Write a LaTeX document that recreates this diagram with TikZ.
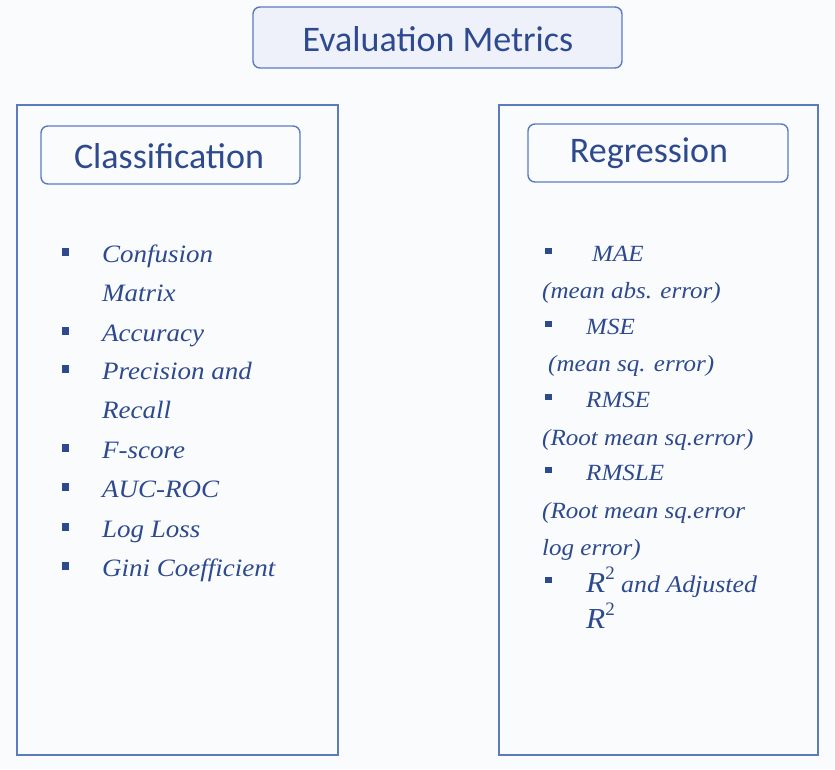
\documentclass[tikz,border=0pt]{standalone}
\usepackage{fontspec}
\setmainfont{Liberation Serif}[ItalicFeatures={FakeStretch=1.08}]
\newfontfamily\hdfont{Carlito}
\definecolor{bgc}{HTML}{FAFBFD}
\definecolor{bordc}{HTML}{5B7BBE}
\definecolor{txtc}{HTML}{2E4A8E}
\definecolor{titlefill}{HTML}{EEF1F9}
\newcommand{\rsq}{{\fontsize{29}{30}\selectfont R\raisebox{0.42em}{\fontsize{19}{20}\selectfont\upshape 2}}}
\begin{document}
\begin{tikzpicture}[x=1pt,y=-1pt,
  panel/.style={draw=bordc,line width=1.6pt},
  headbox/.style={draw=bordc,line width=1.4pt,rounded corners=7pt},
  headtxt/.style={text=txtc,font=\hdfont\fontsize{36}{40}\selectfont,inner sep=0pt},
  item/.style={anchor=base west,text=txtc,font=\itshape\fontsize{25}{28}\selectfont,inner sep=0pt},
  ritem/.style={item,font=\itshape\fontsize{23.2}{26}\selectfont},
  bul/.style={fill=txtc,minimum size=7.5pt,inner sep=0pt,draw=none},
  rbul/.style={bul,minimum size=6.5pt}
]
\useasboundingbox[fill=bgc] (0,0) rectangle (835,769);
% title
\draw[headbox,fill=titlefill] (253,7) rectangle (622,68);
\node[headtxt] (title) at (438,39) {Evaluation Metrics};
% panels
\draw[panel] (17,105) rectangle (338,755);
\draw[panel] (499,105) rectangle (818,755);
\draw[headbox] (41,126) rectangle (300,184);
\node[headtxt] (cls) at (169,156) {Classification};
\draw[headbox] (528,124) rectangle (788,182);
\node[headtxt] (reg) at (649,153) {Regression};
% left list
\foreach \t/\y/\bb [count=\i] in {{Confusion}/262/1,{Matrix}/301/0,{Accuracy}/341/1,{Precision and}/379/1,{Recall}/418/0,{F-score}/458/1,{AUC-ROC}/497/1,{Log Loss}/537/1,{Gini Coefficient}/576/1}{
  \node[item] (L\i) at (102,\y) {\t};
  \ifnum\bb=1 \node[bul] (LB\i) at (65.5,\y-10) {};\fi
}
% right list
\foreach \t/\x/\y/\bb [count=\i] in {{MAE}/592/261/1,{(mean abs. error)}/542/298/0,{MSE}/586/334/1,{(mean sq. error)}/548/371/0,{RMSE}/586/407/1,{(Root mean sq.error)}/542/445/0,{RMSLE}/586/480/1,{(Root mean sq.error}/542/518/0,{log error)}/542/555/0}{
  \node[ritem] (R\i) at (\x,\y) {\t};
  \ifnum\bb=1 \node[rbul] (RB\i) at (548.5,\y-10) {};\fi
}
\node[ritem] (R10) at (586,592) {\rsq\ \fontsize{24}{26}\selectfont and Adjusted};
\node[rbul] (RB10) at (548.5,580) {};
\node[ritem] (R11) at (586,628) {\rsq};
\end{tikzpicture}
\end{document}
